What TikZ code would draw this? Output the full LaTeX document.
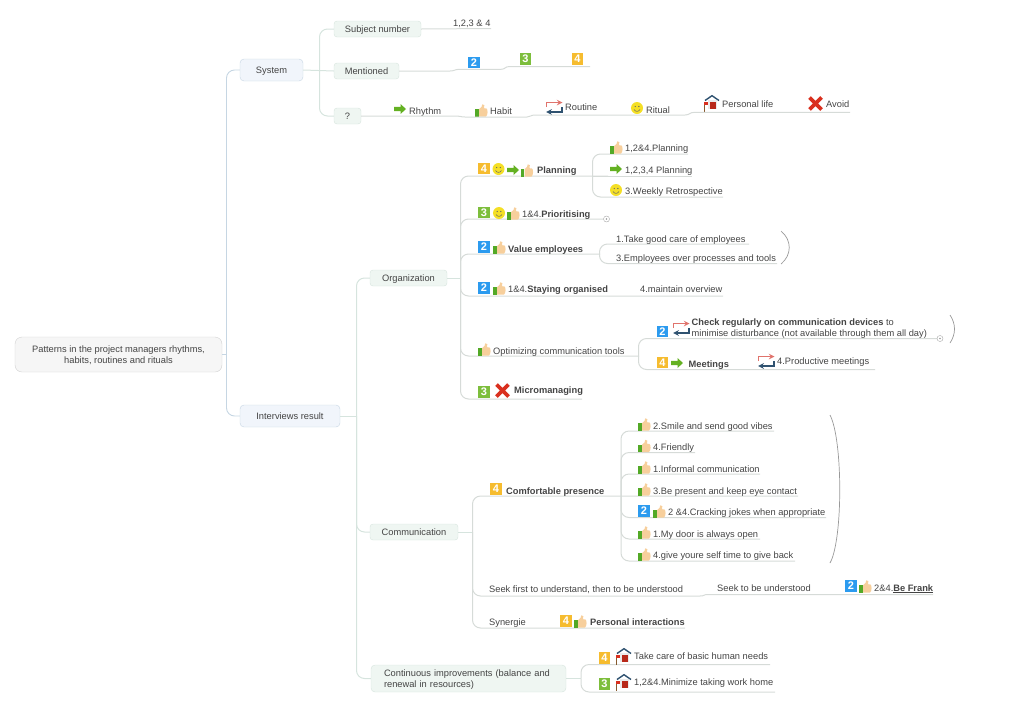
\documentclass[tikz,border=0pt]{standalone}
\usepackage{fontspec}
\setmainfont{Liberation Sans}
\definecolor{txt}{HTML}{444444}
\definecolor{trunkc}{HTML}{C6D6E3}
\definecolor{sysc}{HTML}{D6E4DE}
\definecolor{leafc}{HTML}{D6DBD8}
\definecolor{rootfill}{HTML}{F6F6F6}
\definecolor{mainfill}{HTML}{F1F5FB}
\definecolor{subfill}{HTML}{EFF6F2}
\definecolor{tagblue}{HTML}{2C9BEF}
\definecolor{taggreen}{HTML}{7DBE3C}
\definecolor{tagorange}{HTML}{F6BC2F}
\definecolor{peach}{HTML}{F7CF9C}
\definecolor{leafgreen}{HTML}{53A926}
\definecolor{smile}{HTML}{F4DF26}
\definecolor{crossred}{HTML}{D9301F}
\definecolor{loopred}{HTML}{E0736C}
\definecolor{loopblue}{HTML}{2F5270}
\tikzset{
  every node/.style={text=txt, font=\fontsize{9.3}{11}\selectfont},
  rootbox/.style={draw=black!18, fill=rootfill, rounded corners=7pt, align=center, minimum width=207pt, minimum height=35pt, inner sep=0pt},
  mainbox/.style={draw=trunkc, fill=mainfill, rounded corners=4pt, minimum height=22pt, inner sep=0pt, text height=7.5pt, text depth=.5pt},
  subbox/.style={draw=sysc, fill=subfill, rounded corners=3pt, minimum height=16pt, inner sep=0pt, text height=7.5pt, text depth=.5pt},
  word/.style={anchor=base west, inner sep=0pt},
  trunk/.style={draw=trunkc, line width=.9pt, rounded corners=8pt},
  sysline/.style={draw=sysc, line width=1pt, rounded corners=8pt},
  leafline/.style={draw=leafc, line width=1pt, rounded corners=8pt},
  bracket/.style={draw=black!40, line width=.7pt},
  tag/.style={minimum size=11.5pt, inner sep=0pt, text=white, font=\fontsize{11}{11}\bfseries\selectfont},
  tagb/.style={tag, fill=tagblue},
  tagg/.style={tag, fill=taggreen},
  tago/.style={tag, fill=tagorange},
  expand/.style={circle, draw=black!35, minimum size=6pt, inner sep=0pt, line width=.4pt},
  pics/thumb/.style={code={
    \fill[leafgreen] (0,5) rectangle (3.6,12.5);
    \fill[peach] (4.2,5) -- (6.5,3) -- (7.2,.3) .. controls (9.5,-.5) and (10,2) .. (9,4.2)
      -- (11.5,4.5) .. controls (13,5) and (13,11.5) .. (11,12.5) -- (4.2,12.5) -- cycle;
  }},
  pics/goarrow/.style={code={
    \fill[leafgreen!90!yellow] (0,2.8) -- (6.5,2.8) -- (6.5,0) -- (12,5) -- (6.5,10) -- (6.5,7.2) -- (0,7.2) -- cycle;
  }},
  pics/smiley/.style={code={
    \fill[smile] (6,6) circle (6);
    \fill[black!60] (4.2,4.5) circle (.7) (7.8,4.5) circle (.7);
    \draw[black!60, line width=.5pt] (3,7.5) .. controls (4.5,10) and (7.5,10) .. (9,7.5);
  }},
  pics/loop/.style={code={
    \draw[loopred, line width=1.5pt, ->, >=stealth] (.7,8) -- (.7,3.5) -- (16.5,3.5);
    \draw[loopblue, line width=1.5pt, ->, >=stealth] (16,8) -- (16,13) -- (.2,13);
  }},
  pics/house/.style={code={
    \fill[black!8] (5,5) rectangle (14,14);
    \fill[crossred!85!black] (7,6.5) rectangle (13,14);
    \draw[loopblue, line width=1.4pt] (2,5.5) -- (9,.7) -- (16,5.5);
    \draw[brown!70!black, line width=.8pt] (1,7) -- (1,17);
    \fill[crossred] (1,7) rectangle (5,9.5);
  }},
  pics/redcross/.style={code={
    \draw[crossred, line width=3.8pt] (1.5,1.5) -- (13.5,13.5) (13.5,1.5) -- (1.5,13.5);
  }}
}
\begin{document}
\begin{tikzpicture}[x=1pt,y=-1pt]
\useasboundingbox (0,0) rectangle (1018,713);

% main topics
\node[rootbox] (root) at (118.5,354.5) {\rule{0pt}{9pt}Patterns in the project managers rhythms,\\habits, routines and rituals};
\node[mainbox, minimum width=63pt] (system) at (271.5,70) {System};
\node[mainbox, minimum width=100pt] (interviews) at (290,416) {Interviews result};

\coordinate (rootjoin) at (226.5,354.5);
\draw[trunk] (root.east) -- (rootjoin);
\draw[trunk] (rootjoin) |- (system.west);
\draw[trunk] (rootjoin) |- (interviews.west);

% system branch
\node[subbox, minimum width=87pt] (subject) at (377.5,29) {Subject number};
\node[subbox, minimum width=65pt] (mentioned) at (366.5,71) {Mentioned};
\node[subbox, minimum width=27pt] (question) at (347.5,116) {?};
\coordinate (sysjoin) at (319.5,71);
\draw[sysline] (system.east) -- (mentioned.west);
\draw[sysline] (sysjoin) |- (subject.west);
\draw[sysline] (sysjoin) |- (question.west);

\node[word] (numbers) at (453,26) {1,2,3 \& 4};
\coordinate (subjectend) at (491,28.5);
\draw[leafline] (subject.east) -- (subjectend);

\node[tagb] (mentiontwo) at (474,62.5) {2};
\node[tagg] (mentionthree) at (525.5,59) {3};
\node[tago] (mentionfour) at (577.5,59) {4};
\coordinate (mentionend) at (590,66.5);
\draw[leafline, rounded corners=0pt] (mentioned.east) -- (450,71) .. controls (455,71) and (454,69.3) .. (460,69.3) -- (501,69.3)
  .. controls (506,69.3) and (504,66.5) .. (510,66.5) -- (mentionend);

\pic at (394,104) {goarrow};
\node[word] (rhythm) at (409,114) {Rhythm};
\pic at (475,104) {thumb};
\node[word] (habit) at (490,114.5) {Habit};
\pic at (546,99) {loop};
\node[word] (routine) at (565,110) {Routine};
\pic at (631,102) {smiley};
\node[word] (ritual) at (646,113.5) {Ritual};
\pic at (703,95) {house};
\node[word] (personal) at (722,107) {Personal life};
\pic at (808,96) {redcross};
\node[word] (avoid) at (826,107) {Avoid};
\coordinate (questionend) at (850,112.3);
\draw[leafline, rounded corners=0pt] (question.east) -- (457,116) .. controls (461,116) and (460,117) .. (465,117) -- (527,117)
  .. controls (531,117) and (530,115) .. (535,115) -- (685,115) .. controls (690,115) and (689,112.3) .. (695,112.3) -- (questionend);

% interviews branch
\node[subbox, minimum width=77pt] (organization) at (408.5,278) {Organization};
\node[subbox, minimum width=88pt] (communication) at (414,532) {Communication};
\node[subbox, text height=, text depth=, minimum height=27pt, align=left, text width=169pt, inner xsep=13pt, rounded corners=4pt] (continuous) at (468.5,678.5) {\rule{0pt}{9pt}Continuous improvements (balance and\\renewal in resources)};
\coordinate (interjoin) at (356.5,416);
\draw[sysline] (interviews.east) -- (interjoin);
\draw[sysline] (interjoin) |- (organization.west);
\draw[sysline] (interjoin) |- (communication.west);
\draw[sysline] (interjoin) |- (continuous.west);

% organization
\coordinate (orgjoin) at (460.5,278);
\coordinate (planningend) at (608,176);
\coordinate (prioritisingend) at (603,219);
\coordinate (valueend) at (600,254);
\coordinate (stayingend) at (723,296);
\coordinate (optimizingend) at (639,356);
\coordinate (microend) at (582,399);
\draw[sysline] (organization.east) -- (orgjoin);
\foreach \e in {planningend,prioritisingend,valueend,stayingend,optimizingend,microend}
  \draw[leafline] (orgjoin) |- (\e);

\node[tago] (planningtag) at (484,168.5) {4};
\pic at (492.5,163) {smiley};
\pic at (507,165) {goarrow};
\pic at (520.5,164) {thumb};
\node[word] (planning) at (537,173.5) {\textbf{Planning}};

\coordinate (planjoin) at (592.5,176);
\coordinate (planone) at (688,154);
\coordinate (plantwo) at (692,176);
\coordinate (planthree) at (723,197);
\draw[leafline] (planjoin) |- (planone);
\draw[leafline] (planjoin) -- (plantwo);
\draw[leafline] (planjoin) |- (planthree);
\pic at (610,141) {thumb};
\node[word] (planonetext) at (625,151.5) {1,2\&4.Planning};
\pic at (610,164) {goarrow};
\node[word] (plantwotext) at (625,173.5) {1,2,3,4 Planning};
\pic at (610,184) {smiley};
\node[word] (planthreetext) at (625,194.5) {3.Weekly Retrospective};

\node[tagg] (prioritisingtag) at (484,212.5) {3};
\pic at (493,207) {smiley};
\pic at (507,207) {thumb};
\node[word] (prioritising) at (522,217.5) {1\&4.\textbf{Prioritising}};
\node[expand] (prioritisingexp) at (606.5,219) {};
\fill[black!40] (prioritisingexp) circle (.8);

\node[tagb] (valuetag) at (484,247) {2};
\pic at (493,241) {thumb};
\node[word] (value) at (508,252.5) {\textbf{Value employees}};
\coordinate (valuejoin) at (599.5,254);
\coordinate (valueone) at (749,244);
\coordinate (valuetwo) at (777,263.5);
\draw[leafline] (valuejoin) |- (valueone);
\draw[leafline] (valuejoin) |- (valuetwo);
\node[word] (valueonetext) at (616,242) {1.Take good care of employees};
\node[word] (valuetwotext) at (616,261.5) {3.Employees over processes and tools};
\draw[bracket] (781,231) .. controls (792,240) and (792,255) .. (781,264);

\node[tagb] (stayingtag) at (484,288) {2};
\pic at (493,282) {thumb};
\node[word] (staying) at (508,292.5) {1\&4.\textbf{Staying organised}};
\node[word] (overview) at (640,292.5) {4.maintain overview};

\pic at (478,343) {thumb};
\node[word] (optimizing) at (493,354.5) {Optimizing communication tools};
\coordinate (optjoin) at (638.5,356);
\coordinate (checkend) at (937,338.5);
\coordinate (meetingsend) at (875,369.5);
\draw[leafline] (optjoin) |- (checkend);
\draw[leafline] (optjoin) |- (meetingsend);
\node[tagb] (checktag) at (662.5,331.5) {2};
\pic at (673,320) {loop};
\node[word, anchor=north west, align=left] (check) at (691.5,319) {\textbf{Check regularly on communication devices} to\\minimise disturbance (not available through them all day)};
\node[expand] (checkexp) at (940,338.5) {};
\fill[black!40] (checkexp) circle (.8);
\draw[bracket] (950,315) .. controls (956,324) and (956,334) .. (950,343);
\node[tago] (meetingstag) at (662.5,362.5) {4};
\pic at (671,358) {goarrow};
\node[word] (meetings) at (688.5,367.5) {\textbf{Meetings}};
\pic at (758,353) {loop};
\node[word] (productive) at (777,364.5) {4.Productive meetings};

\node[tagg] (microtag) at (484,392) {3};
\pic at (495,383) {redcross};
\node[word] (micro) at (514,393.5) {\textbf{Micromanaging}};

% communication
\coordinate (commjoin) at (472.5,532);
\coordinate (comfortend) at (798,496);
\coordinate (seekend) at (700,596);
\coordinate (synergieend) at (685,628);
\draw[sysline] (communication.east) -- (commjoin);
\draw[leafline] (commjoin) |- (comfortend);
\draw[leafline] (commjoin) |- (seekend);
\draw[leafline] (commjoin) |- (synergieend);

\node[tago] (comforttag) at (496,489) {4};
\node[word] (comfort) at (506,494.5) {\textbf{Comfortable presence}};

\coordinate (comfortjoin) at (621,496);
\coordinate (smileend) at (774,431);
\coordinate (friendlyend) at (695,452.5);
\coordinate (informalend) at (760,474);
\coordinate (jokesend) at (826,517.5);
\coordinate (doorend) at (760,539);
\coordinate (giveend) at (795,561);
\foreach \e in {smileend,friendlyend,informalend,jokesend,doorend,giveend}
  \draw[leafline] (comfortjoin) |- (\e);
\foreach \y in {418,439.5,461,483,526,548}
  \pic at (638,\y) {thumb};
\node[word] (smiletext) at (653,429) {2.Smile and send good vibes};
\node[word] (friendly) at (653,450.5) {4.Friendly};
\node[word] (informal) at (653,472) {1.Informal communication};
\node[word] (present) at (653,494) {3.Be present and keep eye contact};
\node[tagb] (jokestag) at (644,511) {2};
\pic at (653,505) {thumb};
\node[word] (jokes) at (668,515.5) {2 \&4.Cracking jokes when appropriate};
\node[word] (door) at (653,537) {1.My door is always open};
\node[word] (give) at (653,558.5) {4.give youre self time to give back};
\draw[bracket] (830,415) .. controls (843,440) and (843,540) .. (830,563);

\coordinate (frankend) at (933,594.5);
\draw[leafline, rounded corners=0pt] (seekend) .. controls (705,596) and (703,594.5) .. (708,594.5) -- (frankend);
\node[word] (seekfirst) at (489,592) {Seek first to understand, then to be understood};
\node[word] (seekto) at (717,591.5) {Seek to be understood};
\node[tagb] (franktag) at (851,586) {2};
\pic at (859,580) {thumb};
\node[word] (frank) at (874,591) {2\&4.\underline{\textbf{Be Frank}}};

\node[word] (synergie) at (489,625.5) {Synergie};
\node[tago] (personaltag) at (566,621) {4};
\pic at (574,615) {thumb};
\node[word] (personalint) at (590,625.5) {\textbf{Personal interactions}};

% continuous improvements
\coordinate (contjoin) at (581,678.5);
\coordinate (basicend) at (770,664.5);
\coordinate (homeend) at (775,692);
\draw[sysline] (continuous.east) -- (contjoin);
\draw[leafline] (contjoin) |- (basicend);
\draw[leafline] (contjoin) |- (homeend);
\node[tago] (basictag) at (604.5,658) {4};
\pic at (615,648) {house};
\node[word] (basic) at (634,659.5) {Take care of basic human needs};
\node[tagg] (hometag) at (604.5,684) {3};
\pic at (615,674) {house};
\node[word] (home) at (634,685.5) {1,2\&4.Minimize taking work home};

\end{tikzpicture}
\end{document}
